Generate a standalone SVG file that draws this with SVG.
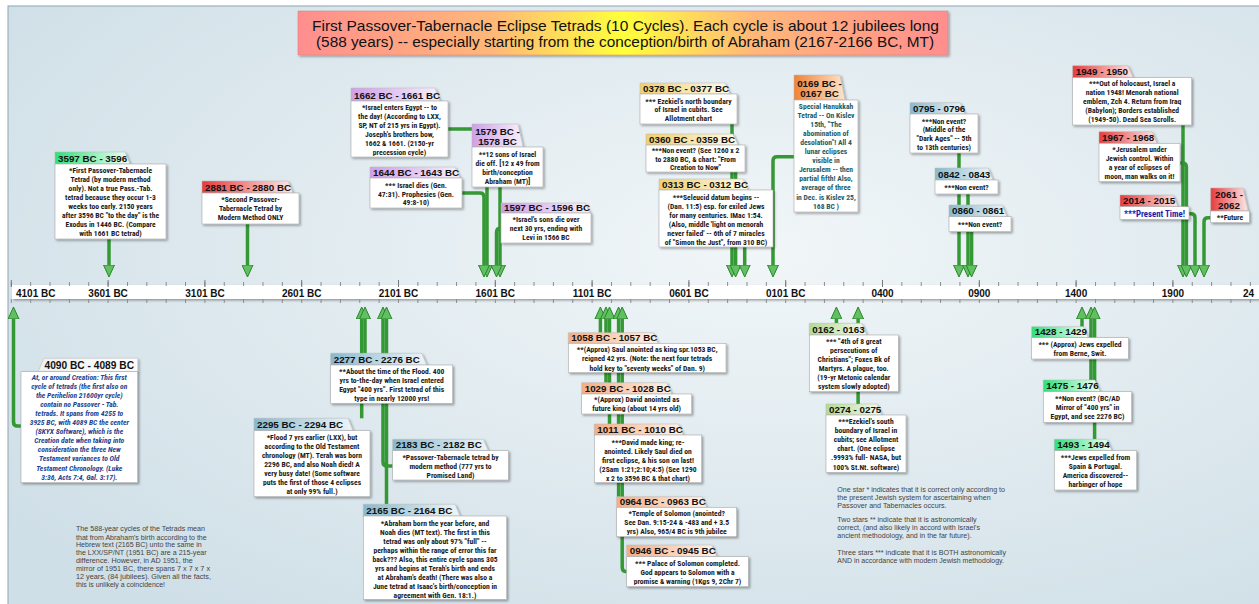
<svg xmlns="http://www.w3.org/2000/svg" width="1259" height="604" viewBox="0 0 1259 604">
<defs>
<radialGradient id="bg" cx="0.6" cy="0.4" r="0.75">
<stop offset="0" stop-color="#f1f6f8"/><stop offset="1" stop-color="#cfdfe7"/>
</radialGradient>
<linearGradient id="gTitle" x1="0" y1="0" x2="1" y2="0">
<stop offset="0" stop-color="#ff8e8e"/><stop offset="0.3" stop-color="#ffb878"/><stop offset="0.5" stop-color="#ffff3c"/><stop offset="0.7" stop-color="#ffb878"/><stop offset="1" stop-color="#ff8e8e"/>
</linearGradient>
<linearGradient id="gGreen"><stop offset="0" stop-color="#2fe07a"/><stop offset="1" stop-color="#f2fff7"/></linearGradient>
<linearGradient id="gRed"><stop offset="0" stop-color="#e63c3c"/><stop offset="1" stop-color="#fde8e8"/></linearGradient>
<linearGradient id="gPurple"><stop offset="0" stop-color="#cf9fe6"/><stop offset="1" stop-color="#f7f0fb"/></linearGradient>
<linearGradient id="gYellow"><stop offset="0" stop-color="#f0cf6e"/><stop offset="1" stop-color="#fffbea"/></linearGradient>
<linearGradient id="gOrange"><stop offset="0" stop-color="#f08236"/><stop offset="1" stop-color="#fde4cc"/></linearGradient>
<linearGradient id="gBlue"><stop offset="0" stop-color="#89b9cd"/><stop offset="1" stop-color="#eef5f8"/></linearGradient>
<linearGradient id="gPeach"><stop offset="0" stop-color="#f5ae84"/><stop offset="1" stop-color="#fff3ec"/></linearGradient>
<linearGradient id="gLime"><stop offset="0" stop-color="#b5d993"/><stop offset="1" stop-color="#f5faef"/></linearGradient>
<linearGradient id="gWhite"><stop offset="0" stop-color="#f0f0f0"/><stop offset="1" stop-color="#ffffff"/></linearGradient>
<filter id="sh" x="-10%" y="-10%" width="130%" height="150%">
<feDropShadow dx="1.5" dy="1.5" stdDeviation="1" flood-color="#000" flood-opacity="0.35"/>
</filter>
<pattern id="tkMinor" patternUnits="userSpaceOnUse" x="10.8" y="0" width="19.36" height="604"><rect x="0" y="0" width="1" height="604" fill="#8a8a8a"/></pattern>
<pattern id="tkMajor" patternUnits="userSpaceOnUse" x="10.8" y="0" width="96.8" height="604"><rect x="0" y="0" width="1" height="604" fill="#777"/></pattern>
<marker id="ah" viewBox="0 0 12 12" refX="3" refY="6" markerWidth="12" markerHeight="12" markerUnits="userSpaceOnUse" orient="auto">
<path d="M0,0.5 L12,6 L0,11.5 Z" fill="#62c062" stroke="#2a862a" stroke-width="1"/>
</marker>
<style>
.tab{stroke:#b8b8b8;stroke-width:.5;filter:url(#sh)}
.box{fill:#fff;stroke:#a8a8a8;stroke-width:.6;filter:url(#sh)}
.hd{font-family:"Liberation Sans",Arial,sans-serif;font-weight:bold;font-size:9.8px;fill:#111}
.bd{font-family:"Liberation Sans Narrow","Arial Narrow","Roboto Condensed",sans-serif;font-weight:bold;font-size:7.6px;fill:#1a1a1a;text-anchor:middle}
.ax{font-family:"Liberation Sans",Arial,sans-serif;font-weight:bold;font-size:10px;fill:#111;text-anchor:middle}
.note{font-family:"Liberation Sans",Arial,sans-serif;font-size:7.5px;fill:#444}
.c{fill:none;stroke:#349834;stroke-width:3.5;marker-end:url(#ah)}
.ttl{font-family:"Liberation Sans",Arial,sans-serif;font-size:14px;fill:#111}
</style>
</defs>

<rect x="0" y="0" width="1259" height="604" fill="#fff"/>
<rect x="8" y="6" width="1262" height="610" fill="url(#bg)" stroke="#8fa3ad" stroke-width="1"/>

<g id="title">
<rect x="298" y="11" width="650" height="44" fill="url(#gTitle)" stroke="#d08080" stroke-width=".5" filter="url(#sh)"/>
<text class="ttl" x="312" y="30.5" textLength="627" lengthAdjust="spacingAndGlyphs">First Passover-Tabernacle Eclipse Tetrads (10 Cycles). Each cycle is about 12 jubilees long</text>
<text class="ttl" x="316" y="47" textLength="618" lengthAdjust="spacingAndGlyphs">(588 years) -- especially starting from the conception/birth of Abraham (2167-2166 BC, MT)</text>
</g>

<g id="axis">
<rect x="12" y="285" width="1247" height="14" fill="#fff" filter="url(#sh)"/>
<rect x="10" y="282" width="1250" height="4" fill="url(#tkMinor)"/>
<rect x="10" y="299" width="1250" height="4" fill="url(#tkMinor)"/>
<rect x="10" y="280" width="1250" height="7" fill="url(#tkMajor)"/>
<text class="ax" x="16" y="296.5" style="text-anchor:start">4101 BC</text>
<text class="ax" x="108.1" y="296.5">3601 BC</text>
<text class="ax" x="205" y="296.5">3101 BC</text>
<text class="ax" x="301.7" y="296.5">2601 BC</text>
<text class="ax" x="398.5" y="296.5">2101 BC</text>
<text class="ax" x="495.3" y="296.5">1601 BC</text>
<text class="ax" x="592.1" y="296.5">1101 BC</text>
<text class="ax" x="688.9" y="296.5">0601 BC</text>
<text class="ax" x="785.7" y="296.5">0101 BC</text>
<text class="ax" x="882.5" y="296.5">0400</text>
<text class="ax" x="979.3" y="296.5">0900</text>
<text class="ax" x="1076.1" y="296.5">1400</text>
<text class="ax" x="1172.9" y="296.5">1900</text>
<text class="ax" x="1243" y="296.5" style="text-anchor:start">24</text>
</g>

<g id="connectors">
<path class="c" d="M109,239 V268"/>
<path class="c" d="M247.5,224 V268"/>
<path class="c" d="M448,129 H483 Q487,129 487,133 V268"/>
<path class="c" d="M462,193 H480 Q484,193 484,197 V268"/>
<path class="c" d="M500,187 V268"/>
<path class="c" d="M501,228 Q496.5,228 496.5,232.5 V268"/>
<path class="c" d="M732,124 V268"/>
<path class="c" d="M735.6,172 V268"/>
<path class="c" d="M744.7,247 V268"/>
<path class="c" d="M794,156.7 H777 Q773,156.7 773,160.7 V268"/>
<path class="c" d="M959,153 V268"/>
<path class="c" d="M968,194 V268"/>
<path class="c" d="M971.6,231.7 V268"/>
<path class="c" d="M1183,125 V268"/>
<path class="c" d="M1180,163 H1182.4 Q1186.4,163 1186.4,167 V268"/>
<path class="c" d="M1189,213.7 H1191 Q1195,213.7 1195,217.7 V268"/>
<path class="c" d="M1210.7,217.7 H1208 Q1204,217.7 1204,221.7 V268"/>
<path class="c" d="M21,426 H17.5 Q13.5,426 13.5,422 V316"/>
<path class="c" d="M361.7,418.3 V316"/>
<path class="c" d="M365,353.3 V316"/>
<path class="c" d="M392.7,466 H387 Q383,466 383,462 V316"/>
<path class="c" d="M386.5,504.3 V316"/>
<path class="c" d="M600.4,332.7 V316"/>
<path class="c" d="M606,382.7 V316"/>
<path class="c" d="M609.5,424 V316"/>
<path class="c" d="M618.6,496.7 V316"/>
<path class="c" d="M626.7,571.7 Q622.2,571.7 622.2,567.2 V316"/>
<path class="c" d="M836.4,323.3 V316"/>
<path class="c" d="M858.1,404 V316"/>
<path class="c" d="M1082,326.7 V316"/>
<path class="c" d="M1091,380 V316"/>
<path class="c" d="M1094.6,439.3 V316"/>
</g>

<g id="n3597">
<path class="tab" fill="url(#gGreen)" d="M55,152 H125 L130,164 H55 Z"/>
<rect class="box" x="55" y="164" width="111" height="75"/>
<text class="hd" x="58" y="161.5">3597 BC - 3596</text>
<text class="bd"><tspan x="110.5" y="172.8">*First Passover-Tabernacle</tspan><tspan x="110.5" y="181.8">Tetrad (by modern method</tspan><tspan x="110.5" y="190.8">only). Not a true Pass.-Tab.</tspan><tspan x="110.5" y="199.8">tetrad because they occur 1-3</tspan><tspan x="110.5" y="208.8">weeks too early. 2150 years</tspan><tspan x="110.5" y="217.8">after 3596 BC "to the day" is the</tspan><tspan x="110.5" y="226.8">Exodus in 1446 BC. (Compare</tspan><tspan x="110.5" y="235.8">with 1661 BC tetrad)</tspan></text>
</g>

<g id="n2881">
<path class="tab" fill="url(#gRed)" d="M202,181 H288 L293,193 H202 Z"/>
<rect class="box" x="202" y="193" width="97" height="31"/>
<text class="hd" x="205" y="190.5">2881 BC - 2880 BC</text>
<text class="bd"><tspan x="250.5" y="201.8">*Second Passover-</tspan><tspan x="250.5" y="210.8">Tabernacle Tetrad by</tspan><tspan x="250.5" y="219.8">Modern Method ONLY</tspan></text>
</g>

<g id="n1662">
<path class="tab" fill="url(#gPurple)" d="M351,88 H435 L440,101 H351 Z"/>
<rect class="box" x="351" y="101" width="97" height="56"/>
<text class="hd" x="354" y="98.5">1662 BC - 1661 BC</text>
<text class="bd"><tspan x="399.5" y="109.5">*Israel enters Egypt -- to</tspan><tspan x="399.5" y="118.5">the day! (According to LXX,</tspan><tspan x="399.5" y="127.5">SP, NT of 215 yrs in Egypt).</tspan><tspan x="399.5" y="136.5">Joseph's brothers bow,</tspan><tspan x="399.5" y="145.5">1662 &amp; 1661. (2150-yr</tspan><tspan x="399.5" y="154.5">precession cycle)</tspan></text>
</g>

<g id="n1644">
<path class="tab" fill="url(#gPurple)" d="M370,167 H455 L460,178 H370 Z"/>
<rect class="box" x="370" y="178" width="92" height="30"/>
<text class="hd" x="373" y="175.5">1644 BC - 1643 BC</text>
<text class="bd"><tspan x="416" y="187.8">*** Israel dies (Gen.</tspan><tspan x="416" y="196.6">47:31). Prophesies (Gen.</tspan><tspan x="416" y="205.4">49:8-10)</tspan></text>
</g>

<g id="n1579">
<path class="tab" fill="url(#gPurple)" d="M472,124 H518 L523,147 H472 Z"/>
<rect class="box" x="472" y="147" width="71" height="40"/>
<text class="hd" x="497.5" y="134.5" text-anchor="middle">1579 BC -</text>
<text class="hd" x="497.5" y="144.5" text-anchor="middle">1578 BC</text>
<text class="bd"><tspan x="507.5" y="156.8">**12 sons of Israel</tspan><tspan x="507.5" y="165.8">die off. [12 x 49 from</tspan><tspan x="507.5" y="174.8">birth/conception</tspan><tspan x="507.5" y="183.8">Abraham (MT)]</tspan></text>
</g>

<g id="n1597">
<path class="tab" fill="url(#gPurple)" d="M501,203 H585 L590,213 H501 Z"/>
<rect class="box" x="501" y="213" width="90" height="30"/>
<text class="hd" x="504" y="210.8">1597 BC - 1596 BC</text>
<text class="bd"><tspan x="546" y="221.8">*Israel's sons die over</tspan><tspan x="546" y="230.8">next 30 yrs, ending with</tspan><tspan x="546" y="239.8">Levi in 1566 BC</tspan></text>
</g>

<g id="n0378">
<path class="tab" fill="url(#gYellow)" d="M640,83 H725 L730,94 H640 Z"/>
<rect class="box" x="640" y="94" width="97" height="30"/>
<text class="hd" x="643" y="91.5">0378 BC - 0377 BC</text>
<text class="bd"><tspan x="688.5" y="103.5">*** Ezekiel's north boundary</tspan><tspan x="688.5" y="112.3">of Israel in cubits. See</tspan><tspan x="688.5" y="121.1">Allotment chart</tspan></text>
</g>

<g id="n0360">
<path class="tab" fill="url(#gYellow)" d="M646,134 H733 L738,145 H646 Z"/>
<rect class="box" x="646" y="145" width="99" height="27"/>
<text class="hd" x="649" y="142.5">0360 BC - 0359 BC</text>
<text class="bd"><tspan x="695.5" y="152.8">***Non event? (See 1260 x 2</tspan><tspan x="695.5" y="161.6">to 2880 BC, &amp; chart: "From</tspan><tspan x="695.5" y="170.2">Creation to Now"</tspan></text>
</g>

<g id="n0313">
<path class="tab" fill="url(#gYellow)" d="M659,179 H743 L748,190 H659 Z"/>
<rect class="box" x="659" y="190" width="114" height="57"/>
<text class="hd" x="662" y="187.5">0313 BC - 0312 BC</text>
<text class="bd"><tspan x="716" y="199.5">***Seleucid datum begins --</tspan><tspan x="716" y="208.5">(Dan. 11:5) esp. for exiled Jews</tspan><tspan x="716" y="217.5">for many centuries. IMac 1:54.</tspan><tspan x="716" y="226.5">(Also, middle 'light on menorah</tspan><tspan x="716" y="235.5">never failed' -- 6th of 7 miracles</tspan><tspan x="716" y="244.5">of "Simon the Just", from 310 BC)</tspan></text>
</g>

<g id="n0169">
<path class="tab" fill="url(#gOrange)" d="M794,75 H840 L845,100 H794 Z"/>
<rect class="box" x="794" y="100" width="64" height="112"/>
<text class="hd" x="819.5" y="86.5" text-anchor="middle">0169 BC -</text>
<text class="hd" x="819.5" y="97" text-anchor="middle">0167 BC</text>
<text class="bd" style="fill:#1b5c66"><tspan x="826" y="108.5">Special Hanukkah</tspan><tspan x="826" y="117.6">Tetrad -- On Kislev</tspan><tspan x="826" y="126.7">15th, "The</tspan><tspan x="826" y="135.8">abomination of</tspan><tspan x="826" y="144.9">desolation"! All 4</tspan><tspan x="826" y="154">lunar eclipses</tspan><tspan x="826" y="163.1">visible in</tspan><tspan x="826" y="172.2">Jerusalem -- then</tspan><tspan x="826" y="181.3">partial fifth! Also,</tspan><tspan x="826" y="190.4">average of three</tspan><tspan x="826" y="199.5">in Dec. is Kislev 25,</tspan><tspan x="826" y="208.6">168 BC )</tspan></text>
</g>

<g id="n0795">
<path class="tab" fill="url(#gBlue)" d="M910,102.7 H960 L965,114 H910 Z"/>
<rect class="box" x="910" y="114" width="68" height="39"/>
<text class="hd" x="913" y="111.5">0795 - 0796</text>
<text class="bd"><tspan x="944" y="123.5">***Non event?</tspan><tspan x="944" y="132.4">(Middle of the</tspan><tspan x="944" y="141.3">"Dark Ages" -- 5th</tspan><tspan x="944" y="150.2">to 13th centuries)</tspan></text>
</g>

<g id="n0842">
<path class="tab" fill="url(#gBlue)" d="M935,168 H988 L993,180 H935 Z"/>
<rect class="box" x="935" y="180" width="63" height="14"/>
<text class="hd" x="938" y="177.5">0842 - 0843</text>
<text class="bd"><tspan x="966.5" y="190">***Non event?</tspan></text>
</g>

<g id="n0860">
<path class="tab" fill="url(#gBlue)" d="M949,205 H1002 L1007,216.7 H949 Z"/>
<rect class="box" x="949" y="216.7" width="62" height="15"/>
<text class="hd" x="952" y="214.2">0860 - 0861</text>
<text class="bd"><tspan x="980" y="227">***Non event?</tspan></text>
</g>

<g id="n1949">
<path class="tab" fill="url(#gRed)" d="M1072.7,65.7 H1128 L1133,77.7 H1072.7 Z"/>
<rect class="box" x="1072.7" y="77.7" width="119" height="47.3"/>
<text class="hd" x="1075.7" y="75.2">1949 - 1950</text>
<text class="bd"><tspan x="1132.2" y="85.5">***Out of holocaust, Israel a</tspan><tspan x="1132.2" y="94.5">nation 1948! Menorah national</tspan><tspan x="1132.2" y="103.5">emblem, Zch 4. Return from Iraq</tspan><tspan x="1132.2" y="112.5">(Babylon); Borders established</tspan><tspan x="1132.2" y="121.5">(1949-50). Dead Sea Scrolls.</tspan></text>
</g>

<g id="n1967">
<path class="tab" fill="url(#gRed)" d="M1099,131.7 H1152 L1157,143.3 H1099 Z"/>
<rect class="box" x="1099" y="143.3" width="81" height="38.4"/>
<text class="hd" x="1102" y="140.8">1967 - 1968</text>
<text class="bd"><tspan x="1139.5" y="151.8">*Jerusalem under</tspan><tspan x="1139.5" y="160.9">Jewish control. Within</tspan><tspan x="1139.5" y="170">a year of eclipses of</tspan><tspan x="1139.5" y="179.1">moon, man walks on it!</tspan></text>
</g>

<g id="n2014">
<path class="tab" fill="url(#gRed)" d="M1120,195 H1173 L1178,206.7 H1120 Z"/>
<rect class="box" x="1120" y="206.7" width="69" height="12.6"/>
<text class="hd" x="1123" y="204.2">2014 - 2015</text>
<text class="bd" style="fill:#1c1ca8;font-size:8.8px"><tspan x="1154.5" y="216.6">***Present Time!</tspan></text>
</g>

<g id="n2061">
<path class="tab" fill="url(#gRed)" d="M1210.7,188 H1243 L1248,211 H1210.7 Z"/>
<rect class="box" x="1210.7" y="211" width="38.6" height="11.7"/>
<text class="hd" x="1229" y="198" text-anchor="middle">2061 -</text>
<text class="hd" x="1229" y="209" text-anchor="middle">2062</text>
<text class="bd"><tspan x="1230" y="220.3">**Future</tspan></text>
</g>

<g id="n4090">
<path class="tab" fill="url(#gWhite)" d="M44,358.3 H137.7 V371.7 H38 Z"/>
<rect class="box" x="21" y="371.7" width="116.7" height="111"/>
<text class="hd" x="134" y="369" text-anchor="end" style="font-size:10.2px">4090 BC - 4089 BC</text>
<text class="bd" style="fill:#23438f;font-style:italic"><tspan x="79.3" y="379.5">At, or around Creation: This first</tspan><tspan x="79.3" y="388.6">cycle of tetrads (the first also on</tspan><tspan x="79.3" y="397.7">the Perihelion 21600yr cycle)</tspan><tspan x="79.3" y="406.8">contain no Passover - Tab.</tspan><tspan x="79.3" y="415.9">tetrads. It spans from 4255 to</tspan><tspan x="79.3" y="425">3925 BC, with 4089 BC the center</tspan><tspan x="79.3" y="434.1">(SKYX Software), which is the</tspan><tspan x="79.3" y="443.2">Creation date when taking into</tspan><tspan x="79.3" y="452.3">consideration the three New</tspan><tspan x="79.3" y="461.4">Testament variances to Old</tspan><tspan x="79.3" y="470.5">Testament Chronology. (Luke</tspan><tspan x="79.3" y="479.6">3:36, Acts 7:4, Gal. 3:17).</tspan></text>
</g>

<g id="n2295">
<path class="tab" fill="url(#gBlue)" d="M254,418.3 H348 L353,430.7 H254 Z"/>
<rect class="box" x="254" y="430.7" width="116" height="66"/>
<text class="hd" x="257" y="428.2">2295 BC - 2294 BC</text>
<text class="bd"><tspan x="312" y="440.1">*Flood 7 yrs earlier (LXX), but</tspan><tspan x="312" y="449.1">according to the Old Testament</tspan><tspan x="312" y="458.2">chronology (MT). Terah was born</tspan><tspan x="312" y="467.2">2296 BC, and also Noah died! A</tspan><tspan x="312" y="476.3">very busy date! (Some software</tspan><tspan x="312" y="485.3">puts the first of those 4 eclipses</tspan><tspan x="312" y="494.4">at only 99% full.)</tspan></text>
</g>

<g id="n2277">
<path class="tab" fill="url(#gBlue)" d="M330.7,353.3 H421.7 L426.7,365 H330.7 Z"/>
<rect class="box" x="330.7" y="365" width="122" height="38.3"/>
<text class="hd" x="333.7" y="362.8">2277 BC - 2276 BC</text>
<text class="bd"><tspan x="391.7" y="374.1">**About the time of the Flood. 400</tspan><tspan x="391.7" y="383">yrs to-the-day when Israel entered</tspan><tspan x="391.7" y="391.9">Egypt "400 yrs". First tetrad of this</tspan><tspan x="391.7" y="400.8">type in nearly 12000 yrs!</tspan></text>
</g>

<g id="n2183">
<path class="tab" fill="url(#gBlue)" d="M392.7,439.3 H483.3 L488.3,450.7 H392.7 Z"/>
<rect class="box" x="392.7" y="450.7" width="115.6" height="29.3"/>
<text class="hd" x="395.7" y="448.2">2183 BC - 2182 BC</text>
<text class="bd"><tspan x="450.5" y="459.5">*Passover-Tabernacle tetrad by</tspan><tspan x="450.5" y="468.6">modern method (777 yrs to</tspan><tspan x="450.5" y="477.8">Promised Land)</tspan></text>
</g>

<g id="n2165">
<path class="tab" fill="url(#gBlue)" d="M363.3,504.3 H455 L460,516 H363.3 Z"/>
<rect class="box" x="363.3" y="516" width="143.4" height="83.3"/>
<text class="hd" x="366.3" y="513.5">2165 BC - 2164 BC</text>
<text class="bd"><tspan x="435" y="525.5">*Abraham born the year before, and</tspan><tspan x="435" y="534.5">Noah dies (MT text). The first in this</tspan><tspan x="435" y="543.5">tetrad was only about 97% "full" --</tspan><tspan x="435" y="552.5">perhaps within the range of error this far</tspan><tspan x="435" y="561.5">back??? Also, this entire cycle spans 305</tspan><tspan x="435" y="570.5">yrs and begins at Terah's birth and ends</tspan><tspan x="435" y="579.5">at Abraham's death! (There was also a</tspan><tspan x="435" y="588.5">June tetrad at Isaac's birth/conception in</tspan><tspan x="435" y="597.5">agreement with Gen. 18:1.)</tspan></text>
</g>

<g id="n1058">
<path class="tab" fill="url(#gPeach)" d="M568.3,332.7 H653 L658,343.3 H568.3 Z"/>
<rect class="box" x="568.3" y="343.3" width="157.7" height="29.4"/>
<text class="hd" x="571.3" y="340.8">1058 BC - 1057 BC</text>
<text class="bd"><tspan x="647.2" y="352.1">**(Approx) Saul anointed as king  spr.1053 BC,</tspan><tspan x="647.2" y="361.3">reigned 42 yrs. (Note: the next four tetrads</tspan><tspan x="647.2" y="370.5">hold key to "seventy weeks" of Dan. 9)</tspan></text>
</g>

<g id="n1029">
<path class="tab" fill="url(#gPeach)" d="M581.7,382.7 H666.7 L671.7,394 H581.7 Z"/>
<rect class="box" x="581.7" y="394" width="110" height="20"/>
<text class="hd" x="584.7" y="391.5">1029 BC - 1028 BC</text>
<text class="bd"><tspan x="636.7" y="402.1">*(Approx) David anointed as</tspan><tspan x="636.7" y="411.1">future king (about 14 yrs old)</tspan></text>
</g>

<g id="n1011">
<path class="tab" fill="url(#gPeach)" d="M594.3,424 H678.3 L683.3,435 H594.3 Z"/>
<rect class="box" x="594.3" y="435" width="107.4" height="47.7"/>
<text class="hd" x="597.3" y="432.5">1011 BC - 1010 BC</text>
<text class="bd"><tspan x="648" y="444.5">***David made king; re-</tspan><tspan x="648" y="453.6">anointed. Likely Saul died on</tspan><tspan x="648" y="462.7">first eclipse, &amp; his son on last!</tspan><tspan x="648" y="471.8">(2Sam 1:21;2:10;4:5) (See 1290</tspan><tspan x="648" y="480.9">x 2 to 3596 BC &amp; that chart)</tspan></text>
</g>

<g id="n0964">
<path class="tab" fill="url(#gPeach)" d="M616.7,496.7 H701.7 L706.7,507.3 H616.7 Z"/>
<rect class="box" x="616.7" y="507.3" width="120" height="29.4"/>
<text class="hd" x="619.7" y="504.8">0964 BC - 0963 BC</text>
<text class="bd"><tspan x="676.7" y="515.5">*Temple of Solomon (anointed?</tspan><tspan x="676.7" y="524.8">See Dan. 9:15-24 &amp; -483 and + 3.5</tspan><tspan x="676.7" y="534.1">yrs) Also, 965/4 BC is 9th jubilee</tspan></text>
</g>

<g id="n0946">
<path class="tab" fill="url(#gPeach)" d="M626.7,545 H711.7 L716.7,556.7 H626.7 Z"/>
<rect class="box" x="626.7" y="556.7" width="121.6" height="30"/>
<text class="hd" x="629.7" y="554.2">0946 BC - 0945 BC</text>
<text class="bd"><tspan x="687.5" y="565.5">*** Palace of Solomon completed.</tspan><tspan x="687.5" y="574.7">God appears to Solomon with a</tspan><tspan x="687.5" y="583.9">promise &amp; warning (1Kgs 9, 2Chr 7)</tspan></text>
</g>

<g id="n0162">
<path class="tab" fill="url(#gLime)" d="M809.3,323.3 H861.7 L866.7,335 H809.3 Z"/>
<rect class="box" x="809.3" y="335" width="89" height="56.7"/>
<text class="hd" x="812.3" y="332.5">0162 - 0163</text>
<text class="bd"><tspan x="853.8" y="343.8">*** "4th of 8 great</tspan><tspan x="853.8" y="352.8">persecutions of</tspan><tspan x="853.8" y="361.8">Christians"; Foxes Bk of</tspan><tspan x="853.8" y="370.8">Martyrs. A plague, too.</tspan><tspan x="853.8" y="379.8">(19-yr Metonic calendar</tspan><tspan x="853.8" y="388.8">system slowly adopted)</tspan></text>
</g>

<g id="n0274">
<path class="tab" fill="url(#gLime)" d="M826,404 H876.7 L881.7,415 H826 Z"/>
<rect class="box" x="826" y="415" width="80" height="57.3"/>
<text class="hd" x="829" y="412.5">0274 - 0275</text>
<text class="bd"><tspan x="866" y="423.5">***Ezekiel's south</tspan><tspan x="866" y="432.7">boundary of Israel in</tspan><tspan x="866" y="441.9">cubits; see Allotment</tspan><tspan x="866" y="451.1">chart. (One eclipse</tspan><tspan x="866" y="460.3">.9993% full- NASA, but</tspan><tspan x="866" y="469.5">100% St.Nt. software)</tspan></text>
</g>

<g id="n1428">
<path class="tab" fill="url(#gGreen)" d="M1031.7,326.7 H1083.3 L1088.3,337.7 H1031.7 Z"/>
<rect class="box" x="1031.7" y="337.7" width="96.6" height="21.3"/>
<text class="hd" x="1034.7" y="335.2">1428 - 1429</text>
<text class="bd"><tspan x="1080" y="346.8">*** (Approx) Jews expelled</tspan><tspan x="1080" y="355.5">from Berne, Swit.</tspan></text>
</g>

<g id="n1475">
<path class="tab" fill="url(#gGreen)" d="M1043.3,380 H1095 L1100,391.7 H1043.3 Z"/>
<rect class="box" x="1043.3" y="391.7" width="88.4" height="30.6"/>
<text class="hd" x="1046.3" y="389.2">1475 - 1476</text>
<text class="bd"><tspan x="1087.5" y="400.5">**Non event? (BC/AD</tspan><tspan x="1087.5" y="409.7">Mirror of "400 yrs" in</tspan><tspan x="1087.5" y="418.9">Egypt, and see 2276 BC)</tspan></text>
</g>

<g id="n1493">
<path class="tab" fill="url(#gGreen)" d="M1054.3,439.3 H1106.7 L1111.7,450.7 H1054.3 Z"/>
<rect class="box" x="1054.3" y="450.7" width="82.4" height="39.3"/>
<text class="hd" x="1057.3" y="448.2">1493 - 1494</text>
<text class="bd"><tspan x="1095.5" y="459.5">***Jews expelled from</tspan><tspan x="1095.5" y="468.6">Spain &amp; Portugal.</tspan><tspan x="1095.5" y="477.7">America discovered--</tspan><tspan x="1095.5" y="486.8">harbinger of hope</tspan></text>
</g>

<g id="paragraph">
<text class="note" x="76" y="531.4" textLength="129" lengthAdjust="spacingAndGlyphs">The 588-year cycles of the Tetrads mean</text>
<text class="note" x="76" y="539.7" textLength="130.7" lengthAdjust="spacingAndGlyphs">that from Abraham's birth according to the</text>
<text class="note" x="76" y="547.2" textLength="125.7" lengthAdjust="spacingAndGlyphs">Hebrew text (2165 BC) unto the same in</text>
<text class="note" x="76" y="555" textLength="130.7" lengthAdjust="spacingAndGlyphs">the LXX/SP/NT (1951 BC) are a 215-year</text>
<text class="note" x="76" y="563" textLength="116.7" lengthAdjust="spacingAndGlyphs">difference. However, in AD 1951, the</text>
<text class="note" x="76" y="570.7" textLength="134" lengthAdjust="spacingAndGlyphs">mirror of 1951 BC, there spans 7 x 7 x 7 x</text>
<text class="note" x="76" y="578.7" textLength="135" lengthAdjust="spacingAndGlyphs">12 years, (84 jubilees). Given all the facts,</text>
<text class="note" x="76" y="586.7" textLength="89" lengthAdjust="spacingAndGlyphs">this is unlikely a coincidence!</text>
</g>

<g id="legend">
<text class="note" x="837.3" y="491.7" textLength="167.7" lengthAdjust="spacingAndGlyphs">One star * indicates that it is correct only according to</text>
<text class="note" x="837.3" y="500" textLength="153.3" lengthAdjust="spacingAndGlyphs">the present Jewish system for ascertaining when</text>
<text class="note" x="837.3" y="508.4" textLength="109.3" lengthAdjust="spacingAndGlyphs">Passover and Tabernacles occurs.</text>
<text class="note" x="837.3" y="521.7" textLength="139.3" lengthAdjust="spacingAndGlyphs">Two stars ** indicate that it is astronomically</text>
<text class="note" x="837.3" y="530" textLength="142.7" lengthAdjust="spacingAndGlyphs">correct, (and also likely in accord with Israel's</text>
<text class="note" x="837.3" y="538.4" textLength="134.3" lengthAdjust="spacingAndGlyphs">ancient methodology, and in the far future).</text>
<text class="note" x="837.3" y="555" textLength="168.7" lengthAdjust="spacingAndGlyphs">Three stars *** indicate that it is BOTH astronomically</text>
<text class="note" x="837.3" y="563.4" textLength="166.7" lengthAdjust="spacingAndGlyphs">AND in accordance with modern Jewish methodology.</text>
</g>
</svg>
